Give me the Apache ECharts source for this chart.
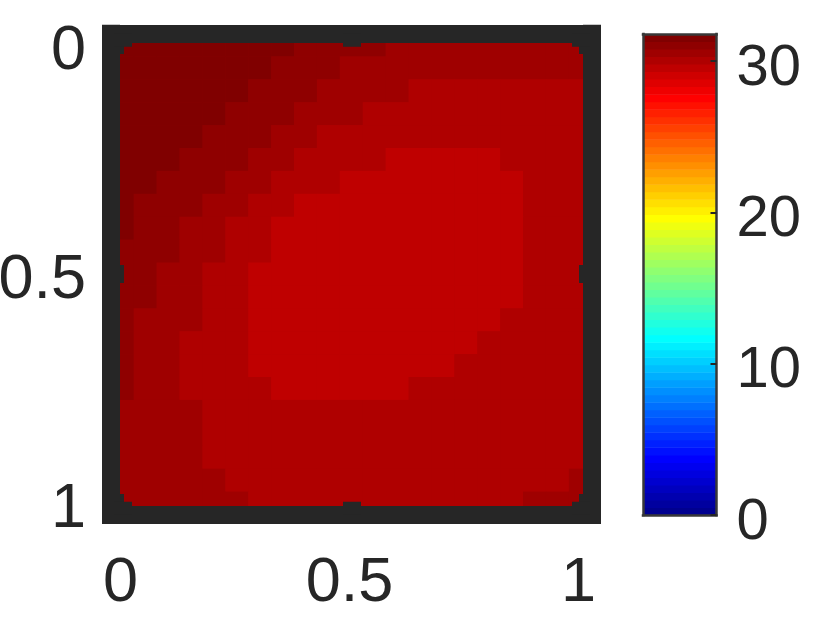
<!DOCTYPE html>
<html>
<head>
<meta charset="utf-8">
<title>heatmap</title>
<script src="https://cdn.jsdelivr.net/npm/echarts@6/dist/echarts.min.js"></script>
<style>
    html, body { margin: 0; padding: 0; background: #fff; }
    #chart { width: 830px; height: 625px; }
</style>
</head>
<body>
<div id="chart"></div>
<script>
// grid coordinates, 21 x 21, top row first
var xCategories = ['0','0.05','0.1','0.15','0.2','0.25','0.3','0.35','0.4','0.45','0.5','0.55','0.6','0.65','0.7','0.75','0.8','0.85','0.9','0.95','1'];
var yCategories = ['0','0.05','0.1','0.15','0.2','0.25','0.3','0.35','0.4','0.45','0.5','0.55','0.6','0.65','0.7','0.75','0.8','0.85','0.9','0.95','1'];

var heatValues = [
    [31.5,31.5,31.5,31.5,31.5,31.5,31.5,31.5,31,31,31,31,30.5,30.5,30.5,30.5,30.5,30.5,30.5,30.5,30.5],
    [31.5,31.5,31.5,31.5,31.5,31.5,31.5,31,31,31,30.5,30.5,30.5,30.5,30.5,30.5,30.5,30.5,30.5,30.5,30.5],
    [31.5,31.5,31.5,31.5,31.5,31.5,31,31,31,30.5,30.5,30.5,30.5,30,30,30,30,30,30,30,30],
    [31.5,31.5,31.5,31.5,31.5,31,31,31,30.5,30.5,30.5,30,30,30,30,30,30,30,30,30,30],
    [31.5,31.5,31.5,31.5,31,31,31,30.5,30.5,30,30,30,30,30,30,30,30,30,30,30,30],
    [31.5,31.5,31.5,31,31,31,30.5,30.5,30,30,30,30,29.5,29.5,29.5,29.5,29.5,30,30,30,30],
    [31.5,31.5,31,31,31,30.5,30.5,30,30,30,29.5,29.5,29.5,29.5,29.5,29.5,29.5,29.5,30,30,30],
    [31.5,31,31,31,30.5,30.5,30,30,29.5,29.5,29.5,29.5,29.5,29.5,29.5,29.5,29.5,29.5,30,30,30],
    [31.5,31,31,30.5,30.5,30,30,29.5,29.5,29.5,29.5,29.5,29.5,29.5,29.5,29.5,29.5,29.5,30,30,30],
    [31,31,31,30.5,30.5,30,30,29.5,29.5,29.5,29.5,29.5,29.5,29.5,29.5,29.5,29.5,29.5,30,30,30],
    [31,31,30.5,30.5,30,30,29.5,29.5,29.5,29.5,29.5,29.5,29.5,29.5,29.5,29.5,29.5,29.5,30,30,30],
    [31,31,30.5,30.5,30,30,29.5,29.5,29.5,29.5,29.5,29.5,29.5,29.5,29.5,29.5,29.5,29.5,30,30,30],
    [31,30.5,30.5,30.5,30,30,29.5,29.5,29.5,29.5,29.5,29.5,29.5,29.5,29.5,29.5,29.5,30,30,30,30],
    [31,30.5,30.5,30,30,30,29.5,29.5,29.5,29.5,29.5,29.5,29.5,29.5,29.5,29.5,30,30,30,30,30],
    [31,30.5,30.5,30,30,30,29.5,29.5,29.5,29.5,29.5,29.5,29.5,29.5,29.5,30,30,30,30,30,30],
    [31,30.5,30.5,30,30,30,30,29.5,29.5,29.5,29.5,29.5,29.5,30,30,30,30,30,30,30,30],
    [30.5,30.5,30.5,30.5,30,30,30,30,30,30,30,30,30,30,30,30,30,30,30,30,30],
    [30.5,30.5,30.5,30.5,30,30,30,30,30,30,30,30,30,30,30,30,30,30,30,30,30],
    [30.5,30.5,30.5,30.5,30,30,30,30,30,30,30,30,30,30,30,30,30,30,30,30,30],
    [30.5,30.5,30.5,30.5,30.5,30,30,30,30,30,30,30,30,30,30,30,30,30,30,30,30.5],
    [30.5,30.5,30.5,30.5,30.5,30.5,30,30,30,30,30,30,30,30,30,30,30,30,30.5,30.5,30.5]
];

// colorbar bands, bottom to top
var barLevels = [0.25,0.75,1.25,1.75,2.25,2.75,3.25,3.75,4.25,4.75,5.25,5.75,6.25,6.75,7.25,7.75,
    8.25,8.75,9.25,9.75,10.25,10.75,11.25,11.75,12.25,12.75,13.25,13.75,14.25,14.75,15.25,15.75,
    16.25,16.75,17.25,17.75,18.25,18.75,19.25,19.75,20.25,20.75,21.25,21.75,22.25,22.75,23.25,23.75,
    24.25,24.75,25.25,25.75,26.25,26.75,27.25,27.75,28.25,28.75,29.25,29.75,30.25,30.75,31.25,31.75];

var jetColors = ['#00008f','#00009f','#0000af','#0000bf','#0000cf','#0000df','#0000ef','#0000ff',
    '#0010ff','#0020ff','#0030ff','#0040ff','#0050ff','#0060ff','#0070ff','#0080ff',
    '#008fff','#009fff','#00afff','#00bfff','#00cfff','#00dfff','#00efff','#00ffff',
    '#10ffef','#20ffdf','#30ffcf','#40ffbf','#50ffaf','#60ff9f','#70ff8f','#80ff80',
    '#8fff70','#9fff60','#afff50','#bfff40','#cfff30','#dfff20','#efff10','#ffff00',
    '#ffef00','#ffdf00','#ffcf00','#ffbf00','#ffaf00','#ff9f00','#ff8f00','#ff8000',
    '#ff7000','#ff6000','#ff5000','#ff4000','#ff3000','#ff2000','#ff1000','#ff0000',
    '#ef0000','#df0000','#cf0000','#bf0000','#af0000','#9f0000','#8f0000','#800000'];

var colorMax = 31.8;
var bandStep = colorMax / 64;

var heatData = [];
heatValues.forEach(function (row, y) {
    row.forEach(function (v, x) {
        heatData.push([x, y, v]);
    });
});
var barData = barLevels.map(function (v) { return [0, v, v]; });
var pieces = jetColors.map(function (c, i) {
    return { gte: i * bandStep, lt: (i + 1) * bandStep, color: c };
});

var dark = '#262626';
var axisFontSize = 63;
var barFontSize = 58;
function everyTen(i) { return i % 10 === 0; }

var frameLine = { show: true, onZero: false, lineStyle: { color: dark, width: 18, cap: 'square' } };
var barLine = { show: true, onZero: false, lineStyle: { color: '#383838', width: 2.5, cap: 'square' } };
var frameTick = { show: true, inside: true, length: 13, alignWithLabel: true, interval: everyTen, lineStyle: { color: dark, width: 18 } };

// colorbar band, one rect per level, placed by the value axis
function renderBand(params, api) {
    var bottom = api.coord([0, params.dataIndex * bandStep]);
    var top = api.coord([0, (params.dataIndex + 1) * bandStep]);
    var w = api.size([1, 0])[0];
    return {
        type: 'rect',
        shape: { x: bottom[0] - w / 2, y: top[1], width: w, height: bottom[1] - top[1] + 0.5 },
        style: { fill: api.visual('color') }
    };
}

var option = {
    backgroundColor: '#fff',
    animation: false,
    textStyle: { fontFamily: 'Liberation Sans' },
    visualMap: {
        show: false,
        type: 'piecewise',
        seriesIndex: [0, 1],
        dimension: 2,
        pieces: pieces
    },
    grid: [
        // the fill hides the hairlines between heatmap cells
        { left: 111, top: 33.7, width: 481, height: 481, show: true, borderWidth: 0, backgroundColor: '#a80000', outerBoundsMode: 'none' },
        { left: 643, top: 34, width: 73.5, height: 481, outerBoundsMode: 'none' }
    ],
    xAxis: [
        {
            type: 'category', gridIndex: 0, position: 'bottom', data: xCategories, z: 5,
            axisLine: frameLine, axisTick: frameTick, splitLine: { show: false },
            axisLabel: {
                interval: everyTen, margin: 37, color: dark, fontSize: axisFontSize,
                fontFamily: 'Liberation Sans', padding: [0, 4, 0, 0]
            }
        },
        {
            type: 'category', gridIndex: 0, position: 'top', data: xCategories, z: 5,
            axisLine: frameLine, axisTick: frameTick, axisLabel: { show: false }, splitLine: { show: false }
        },
        {
            type: 'category', gridIndex: 1, position: 'bottom', data: ['0'], z: 5,
            axisLine: barLine, axisTick: { show: false }, axisLabel: { show: false }, splitLine: { show: false }
        },
        {
            type: 'category', gridIndex: 1, position: 'top', data: ['0'], z: 5,
            axisLine: barLine, axisTick: { show: false }, axisLabel: { show: false }, splitLine: { show: false }
        }
    ],
    yAxis: [
        {
            type: 'category', gridIndex: 0, position: 'left', inverse: true, data: yCategories, z: 5,
            axisLine: frameLine, axisTick: frameTick, splitLine: { show: false },
            axisLabel: {
                interval: everyTen, margin: 25, color: dark, fontSize: axisFontSize,
                fontFamily: 'Liberation Sans', verticalAlign: 'top', lineHeight: 13
            }
        },
        {
            type: 'category', gridIndex: 0, position: 'right', inverse: true, data: yCategories, z: 5,
            axisLine: frameLine, axisTick: frameTick, axisLabel: { show: false }, splitLine: { show: false }
        },
        {
            type: 'value', gridIndex: 1, position: 'left', min: 0, max: colorMax, z: 5,
            axisLine: barLine, axisTick: { show: false }, axisLabel: { show: false }, splitLine: { show: false }
        },
        {
            type: 'value', gridIndex: 1, position: 'right', min: 0, max: colorMax, interval: 10, z: 5,
            axisLine: barLine, splitLine: { show: false },
            axisTick: { show: true, inside: true, length: 6, lineStyle: { color: dark, width: 2 } },
            axisLabel: {
                margin: 20, color: dark, fontSize: barFontSize, fontFamily: 'Liberation Sans',
                verticalAlign: 'top', lineHeight: 15, showMaxLabel: false
            }
        }
    ],
    series: [
        {
            type: 'heatmap', xAxisIndex: 0, yAxisIndex: 0, data: heatData,
            progressive: 0, emphasis: { disabled: true }, itemStyle: { borderWidth: 0 }
        },
        {
            type: 'custom', xAxisIndex: 2, yAxisIndex: 2, data: barData,
            encode: { x: 0, y: 1 }, renderItem: renderBand
        }
    ]
};

var myChart = echarts.init(document.getElementById('chart'), null, { renderer: 'canvas' });
myChart.setOption(option);
</script>
</body>
</html>
